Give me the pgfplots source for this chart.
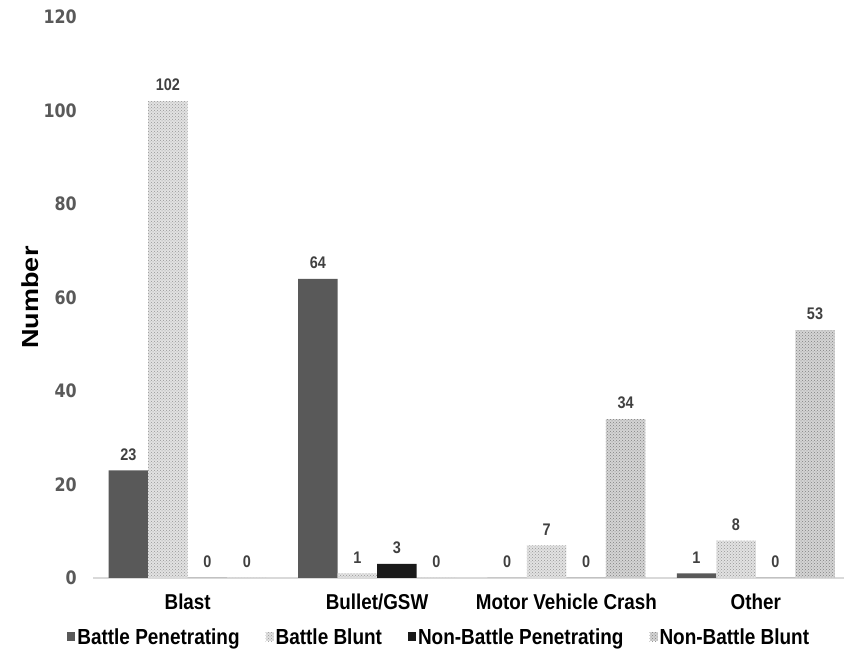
\documentclass[border=0pt]{standalone}
\usepackage{pgfplots}
\pgfplotsset{compat=1.18}
\usepackage{pgfplotstable}
\usepackage{fontspec}
\usetikzlibrary{patterns}
\setmainfont{Liberation Sans}
\newfontfamily\catfont{Liberation Sans}[FakeStretch=0.875]
\newfontfamily\legfont{Liberation Sans}[FakeStretch=0.87]
\newfontfamily\valfont{Liberation Sans}[FakeStretch=0.86]
\newfontfamily\tickfont{DejaVu Sans}[FakeStretch=0.86]

\definecolor{bpen}{RGB}{89,89,89}
\definecolor{nbpen}{RGB}{26,26,26}
\definecolor{bbfill}{RGB}{226,226,226}
\definecolor{bbdots}{RGB}{150,150,150}
\definecolor{nbbfill}{RGB}{212,212,212}
\definecolor{nbbdots}{RGB}{128,128,128}
\definecolor{axgray}{RGB}{217,217,217}
\definecolor{tickgray}{RGB}{89,89,89}
\definecolor{valgray}{RGB}{64,64,64}

% mechanism of injury counts
\pgfplotstableread{
x BP BB NBP NBB
0 23 102 0 0
1 64 1 3 0
2 0 7 0 34
3 1 8 0 53
}\injuries

\begin{document}
\begin{tikzpicture}
\useasboundingbox (0pt,0pt) rectangle (844pt,655pt);
\begin{axis}[
    at={(93pt,77pt)}, anchor=south west,
    scale only axis, width=751pt, height=561pt,
    xmin=-0.5, xmax=3.466, ymin=0, ymax=120,
    ybar=0pt, bar width=39.5pt,
    axis x line*=bottom, axis y line*=left,
    x axis line style={axgray, line width=1.5pt, -},
    y axis line style={draw=none},
    major tick length=0pt,
    xtick={0,1,2,3},
    xticklabels={Blast,Bullet/GSW,Motor Vehicle Crash,Other},
    ytick={0,20,...,120},
    /pgf/number format/assume math mode=true,
    xticklabel style={font=\catfont\bfseries\fontsize{21.5}{24}\selectfont,
        anchor=north, inner sep=0pt, yshift=-16pt},
    yticklabel style={font=\tickfont\bfseries\fontsize{18.5}{20}\selectfont,
        text=tickgray, anchor=east, inner sep=0pt, xshift=-16pt},
    nodes near coords,
    every node near coord/.append style={font=\valfont\bfseries\fontsize{16.8}{19}\selectfont,
        text=valgray, anchor=south, inner sep=0pt, yshift=10pt},
    ylabel={\scalebox{1}[0.86]{\fontsize{27}{30}\selectfont\bfseries Number}},
    every axis y label/.style={at={(axis description cs:-0.084,0.5)}, rotate=90, anchor=center},
    legend columns=4,
    legend style={at={(axis description cs:0.461,-0.105)}, anchor=center,
        draw=none, fill=none, inner sep=0pt,
        font=\legfont\bfseries\fontsize{21.8}{24}\selectfont,
        /tikz/every even column/.append style={column sep=24pt}},
    legend cell align=left,
    legend image code/.code={\fill[#1] (-4pt,-4.5pt) rectangle (4pt,4.5pt);},
]
\addplot[fill=bpen, draw=none] table[x=x, y=BP] {\injuries};
\addplot[fill=bbfill, draw=none, postaction={pattern=crosshatch dots, pattern color=bbdots}] table[x=x, y=BB] {\injuries};
\addplot[fill=nbpen, draw=none] table[x=x, y=NBP] {\injuries};
\addplot[fill=nbbfill, draw=none, postaction={pattern=crosshatch dots, pattern color=nbbdots}] table[x=x, y=NBB] {\injuries};
\legend{Battle Penetrating, Battle Blunt, Non-Battle Penetrating, Non-Battle Blunt}
\end{axis}
\end{tikzpicture}
\end{document}
